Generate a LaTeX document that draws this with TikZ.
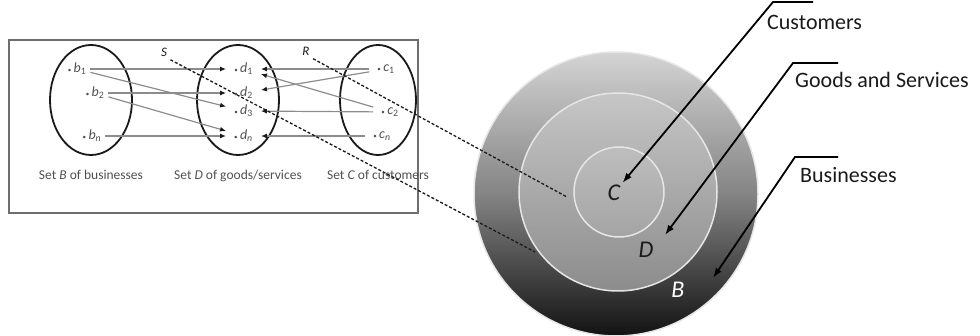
\documentclass[tikz,border=0pt]{standalone}
\usepackage{fontspec}
\setmainfont{Carlito}
\usetikzlibrary{arrows.meta, positioning, shapes.geometric, calc}
\definecolor{cInk}{HTML}{1A1A1A}
\definecolor{cText}{HTML}{505050}
\definecolor{cLink}{HTML}{8C8C8C}
\definecolor{cFrame}{HTML}{6E6E6E}
\definecolor{cOuterTop}{HTML}{D4D4D4}
\definecolor{cOuterMid}{HTML}{848484}
\definecolor{cOuterBot}{HTML}{121212}
\definecolor{cMidTop}{HTML}{C6C6C6}
\definecolor{cMidBot}{HTML}{8C8C8C}
\definecolor{cInnerTop}{HTML}{BEBEBE}
\definecolor{cInnerBot}{HTML}{A4A4A4}
\definecolor{cRim}{HTML}{E6E6E6}

\begin{document}
\begin{tikzpicture}[
    x=1pt, y=-1pt,
    >=Stealth,
    setell/.style={draw=cInk, ellipse, line width=1.8pt,
                   minimum width=82pt, minimum height=110pt},
    elem/.style={font=\fontsize{14}{16}\selectfont, text=cText,
                 inner xsep=4pt, inner ysep=1pt},
    delem/.style={elem, inner xsep=8pt},
    setlbl/.style={font=\fontsize{13.5}{16}\selectfont, text=cText},
    link/.style={-{Latex[length=6pt, width=5pt, color=cInk]},
                 draw=cLink, line width=1.2pt},
    rel/.style={densely dashed, line width=1.3pt, draw=cInk},
    rlbl/.style={font=\fontsize{13}{15}\selectfont\itshape, text=cInk},
    disc/.style={circle, draw=cRim, line width=1.5pt, inner sep=0pt},
    letter/.style={font=\fontsize{24}{28}\selectfont\itshape, text=cInk,
                   inner sep=2pt},
    tag/.style={font=\fontsize{22}{26}\selectfont, anchor=west, inner sep=0pt,
                text=cInk},
    callout/.style={-{Latex[length=10pt, width=7pt]}, line width=1.8pt},
]
\useasboundingbox (0,0) rectangle (980,336);

% ================================================================
%  LEFT: the three sets and the relations between them
% ================================================================

\node[draw=cFrame, line width=1.2pt, inner sep=0pt,
      minimum width=409pt, minimum height=173pt] (panel) at (213.5,126.5) {};

\node[setell] (setB) at (91,100) {};
\node[setell] (setD) at (238,100) {};
\node[setell, minimum width=76pt] (setC) at (378,100) {};

\node[setlbl, below=11pt of setB] (capB) {Set \textit{B} of businesses};
\node[setlbl, below=11pt of setD] (capD) {Set \textit{D} of goods/services};
\node[setlbl, below=11pt of setC] (capC) {Set \textit{C} of customers};

% elements
\node[elem] (b1) at (77,69)  {{\scriptsize\textbullet}\,\textit{b}\textsubscript{1}};
\node[elem] (b2) at (95,93)  {{\scriptsize\textbullet}\,\textit{b}\textsubscript{2}};
\node[elem] (bn) at (92,136) {{\scriptsize\textbullet}\,\textit{b}\textsubscript{\textit{n}}};

\node[delem] (d1) at (243.5,69)  {{\scriptsize\textbullet}\,\textit{d}\textsubscript{1}};
\node[delem] (d2) at (243.5,93)  {{\scriptsize\textbullet}\,\textit{d}\textsubscript{2}};
\node[delem] (d3) at (243.5,111) {{\scriptsize\textbullet}\,\textit{d}\textsubscript{3}};
\node[delem] (dn) at (243.5,136) {{\scriptsize\textbullet}\,\textit{d}\textsubscript{\textit{n}}};

\node[delem] (c1) at (386,69)  {{\scriptsize\textbullet}\,\textit{c}\textsubscript{1}};
\node[delem] (c2) at (390,112) {{\scriptsize\textbullet}\,\textit{c}\textsubscript{2}};
\node[delem] (cn) at (382,136) {{\scriptsize\textbullet}\,\textit{c}\textsubscript{\textit{n}}};

% businesses -> goods/services
\draw[link] (b1) -- (d1);
\draw[link] (b1) -- (d3);
\draw[link] (b2) -- (d2);
\draw[link] (b2) -- (dn);
\draw[link] (bn) -- (dn);

% customers -> goods/services
\draw[link] (c1) -- (d1);
\draw[link] (c1) -- (d2);
\draw[link] (c2) -- (d1);
\draw[link] (c2) -- (d3);
\draw[link] (cn) -- (dn);

\node[rlbl] (sRel) at (164,52) {S};
\node[rlbl] (rRel) at (306,51) {R};

% ================================================================
%  RIGHT: nested discs
% ================================================================

\node[disc, minimum size=284pt, top color=cOuterTop, bottom color=cOuterBot,
      middle color=cOuterMid] (discB) at (616,194) {};
\node[disc, minimum size=198pt, top color=cMidTop, bottom color=cMidBot]
    (discD) at (618,192) {};
\node[disc, minimum size=90pt, top color=cInnerTop, bottom color=cInnerBot]
    (discC) at (619,192) {};

\node[letter] (letC) at (614,193) {C};
\node[letter] (letD) at (646,250) {D};
\node[letter, text=white] (letB) at (678,290) {B};

% S and R into the discs
\coordinate (sEnd) at (535,252);
\coordinate (rEnd) at (567,197);
\draw[rel] (sRel.south east) -- (sEnd);
\draw[rel] (rRel.south east) -- (rEnd);

% ================================================================
%  Callouts
% ================================================================

\coordinate (kCust)  at (773,2);
\coordinate (kGoods) at (793,63);
\coordinate (kBus)   at (795,157);
\coordinate (tipD)   at (665,235);
\coordinate (tipB)   at (713,278);

\node[tag] (tCust)  at (767,22)  {Customers};
\node[tag] (tGoods) at (795,80)  {Goods and Services};
\node[tag] (tBus)   at (800,175) {Businesses};

\draw[callout] ($(kCust)+(40,0)$)  -- (kCust)  -- (letC.north east);
\draw[callout] ($(kGoods)+(45,0)$) -- (kGoods) -- (tipD);
\draw[callout] ($(kBus)+(43,0)$)   -- (kBus)   -- (tipB);

\end{tikzpicture}
\end{document}
